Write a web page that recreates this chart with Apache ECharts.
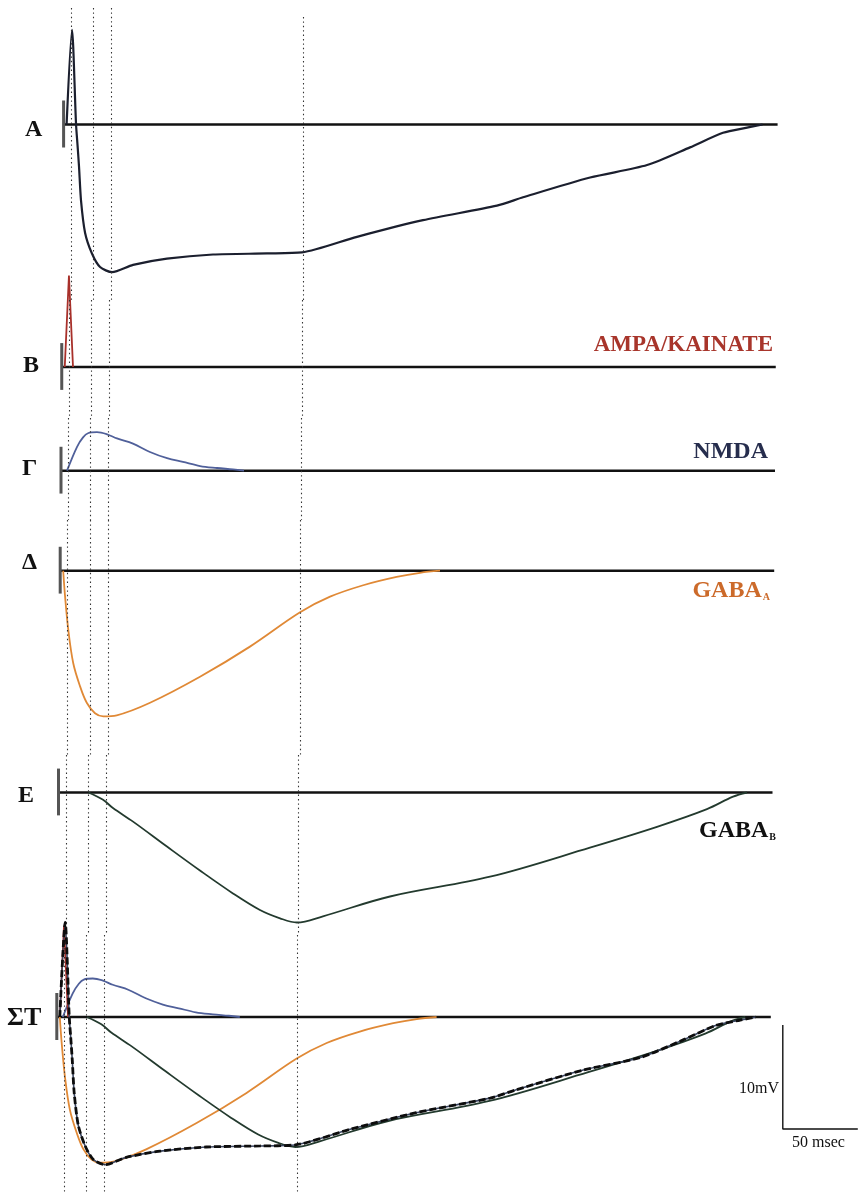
<!DOCTYPE html>
<html><head><meta charset="utf-8">
<script src="https://cdn.jsdelivr.net/npm/echarts@6/dist/echarts.min.js"></script>
<style>html,body{margin:0;padding:0;background:#fff}#c{width:858px;height:1192px}</style>
</head><body><div id="c"></div>
<script>
// ---------- DATA (time in ms, potential in mV) ----------
const panelLetters = ['A', 'B', 'Γ', 'Δ', 'E', 'ΣT'];
const componentNames = ['AMPA/KAINATE', 'NMDA', 'GABA_A', 'GABA_B'];
const guideTimes = [3, 17.7, 29.7, 158];
const scaleBarMV = 10;
const scaleBarMS = 50;

// A: recorded / summed response
const traceA = [[0,0],[3.6,9.1],[6.3,0],[7.3,-2.0],[8.3,-4.1],[9.6,-7.3],[12.3,-10.4],[16.9,-12.4],[22.3,-13.7],[30.3,-14.2],[44.3,-13.5],[66.9,-12.9],[97.6,-12.5],[133.6,-12.4],[156.9,-12.3],[193.6,-10.8],[237.6,-9.2],[286.9,-7.8],[304.3,-7.0],[349,-5.1],[387,-3.9],[415.6,-2.2],[437.6,-0.8],[453.6,-0.3],[464,0]];
// B: AMPA/KAINATE
const ampa = [[0,0],[2.8,8.8],[5.5,0]];
// Γ: NMDA
const nmda = [[2,0],[8.7,2.3],[12.7,3.2],[16,3.6],[22,3.7],[28.7,3.5],[35.3,3.1],[46,2.6],[57.3,1.8],[68.7,1.2],[79.3,0.84],[90.7,0.45],[102,0.26],[112.7,0.12],[120,0]];
// Δ: GABA_A
const gabaA = [[0,0],[1.2,-2.4],[3.4,-5.7],[6.7,-8.9],[11.2,-11.1],[15.7,-12.7],[21.2,-13.7],[26.7,-14.0],[35.7,-13.9],[57.9,-12.7],[91.2,-10.2],[124.5,-7.3],[157.9,-4.0],[177.9,-2.5],[200,-1.4],[222.3,-0.6],[237.9,-0.2],[251.2,0]];
// E: GABA_B
const gabaB = [[18,0],[27.7,-0.7],[34.3,-1.5],[47.7,-2.8],[70.3,-5.2],[92.3,-7.5],[114.3,-9.7],[132.3,-11.3],[145.7,-12.1],[157,-12.5],[174.3,-11.9],[219,-10.0],[285.7,-8.1],[352.3,-5.3],[397,-3.3],[430.3,-1.6],[447.7,-0.4],[457,0]];

// ---------- LAYOUT ----------
const W = 858;
const PX_PER_MV = 10.4, PX_PER_MS = 1.5, T_MIN = -10;
const BASE_START = -2, BASE_END = 474;
const layout = [
  {top: 8,   bottom: 300,  base: 124.5, x0: 66.6},
  {top: 300, bottom: 418,  base: 367,   x0: 64.75},
  {top: 418, bottom: 520,  base: 470.7, x0: 64.0},
  {top: 520, bottom: 755,  base: 570.7, x0: 63.2},
  {top: 755, bottom: 935,  base: 792.5, x0: 61.5},
  {top: 935, bottom: 1192, base: 1017,  x0: 59.8}
];
const col = {
  A: '#1b1f2e', ampa: '#a8302a', nmda: '#50609a', gabaA: '#e08936', gabaB: '#233a2e',
  base: '#111', guide: '#333'
};

const grids = [], xAxes = [], yAxes = [], series = [];
layout.forEach((p, i) => {
  const yMax = (p.base - p.top) / PX_PER_MV;
  const yMin = (p.base - p.bottom) / PX_PER_MV;
  const left = p.x0 + T_MIN * PX_PER_MS;
  const tMax = (W - p.x0) / PX_PER_MS;
  p.yMax = yMax; p.yMin = yMin;
  grids.push({left: left, top: p.top, width: W - left, height: p.bottom - p.top});
  xAxes.push({type: 'value', gridIndex: i, min: T_MIN, max: tMax, show: false});
  yAxes.push({type: 'value', gridIndex: i, min: yMin, max: yMax, show: false});
});

function line(i, data, color, width, extra) {
  return Object.assign({
    type: 'line', xAxisIndex: i, yAxisIndex: i, data: data, showSymbol: false, symbol: 'none',
    clip: false, silent: true, smooth: 0.35,
    lineStyle: {color: color, width: width}, z: 3
  }, extra || {});
}

layout.forEach((p, i) => {
  const guides = guideTimes.map((t, k) => {
    let top = p.yMax;
    if (i === 0 && k === 3) top = (p.base - 17) / PX_PER_MV;
    return [{coord: [t, top]}, {coord: [t, p.yMin]}];
  });
  series.push(line(i, [[BASE_START, 0], [BASE_END, 0]], col.base, 2.6, {
    smooth: false, z: 2,
    markLine: {silent: true, symbol: 'none', animation: false, label: {show: false},
      lineStyle: {color: col.guide, width: 1.1, type: [1.4, 3]}, data: guides}
  }));
  series.push(line(i, [[BASE_START, 2.3], [BASE_START, -2.2]], '#555', 3, {smooth: false, z: 2}));
});

series.push(line(0, traceA, col.A, 2.2, {smooth: 0.25}));
series.push(line(1, ampa, col.ampa, 1.8, {smooth: false}));
series.push(line(2, nmda, col.nmda, 1.8));
series.push(line(3, gabaA, col.gabaA, 1.8));
series.push(line(4, gabaB, col.gabaB, 1.8));
series.push(line(5, nmda, col.nmda, 1.8));
series.push(line(5, gabaA, col.gabaA, 1.8));
series.push(line(5, gabaB, col.gabaB, 1.8));
series.push(line(5, ampa, col.ampa, 1.8, {smooth: false}));
series.push(line(5, traceA, '#3a4560', 1.6, {smooth: 0.25, z: 4}));
series.push(line(5, traceA, '#0d0d0d', 2.8, {smooth: 0.25, z: 5, lineStyle: {color: '#0d0d0d', width: 2.8, type: [7, 3]}}));
const sbT = 482, sbTop = -0.77;
series.push(line(5, [[sbT, sbTop], [sbT, sbTop - scaleBarMV], [sbT + scaleBarMS, sbTop - scaleBarMV]], '#111', 1.4, {smooth: false}));

// ---------- TEXT ----------
const serif = '"Liberation Serif","Times New Roman",serif';
const letterPos = [[25, 130], [23, 366], [22, 469], [22, 563], [18, 796], [7, 1018]];
const graphics = panelLetters.map((t, i) => ({
  type: 'text', x: letterPos[i][0], y: letterPos[i][1],
  style: {text: t, fontFamily: serif, fontWeight: 'bold', fontSize: i === 5 ? 26 : 24, fill: '#111', verticalAlign: 'middle', align: 'left'}
}));
function compLabel(name, x, y, color, size) {
  const parts = name.split('_');
  const text = parts.length > 1 ? '{m|' + parts[0] + '}{s|' + parts[1] + '}' : '{m|' + name + '}';
  return {type: 'text', x: x, y: y, style: {
    text: text, align: 'right', verticalAlign: 'middle',
    rich: {
      m: {fontFamily: serif, fontWeight: 'bold', fontSize: size, fill: color, lineHeight: 26},
      s: {fontFamily: serif, fontWeight: 'bold', fontSize: 10, fill: color, padding: [12, 0, 0, 1], lineHeight: 26}
    }
  }};
}
graphics.push(compLabel(componentNames[0], 773, 345, '#a8352b', 23));
graphics.push(compLabel(componentNames[1], 768, 452, '#262d4d', 24));
graphics.push(compLabel(componentNames[2], 770, 591, '#cc6a2a', 24));
graphics.push(compLabel(componentNames[3], 776, 831, '#111', 24));
graphics.push({type: 'text', x: 779, y: 1089, style: {text: '10mV', fontFamily: serif, fontSize: 16, fill: '#111', align: 'right', verticalAlign: 'middle'}});
graphics.push({type: 'text', x: 792, y: 1143, style: {text: '50 msec', fontFamily: serif, fontSize: 16, fill: '#111', align: 'left', verticalAlign: 'middle'}});

const chart = echarts.init(document.getElementById('c'), null, {renderer: 'canvas'});
chart.setOption({
  animation: false, backgroundColor: '#fff',
  grid: grids, xAxis: xAxes, yAxis: yAxes, series: series, graphic: graphics
});
</script></body></html>
